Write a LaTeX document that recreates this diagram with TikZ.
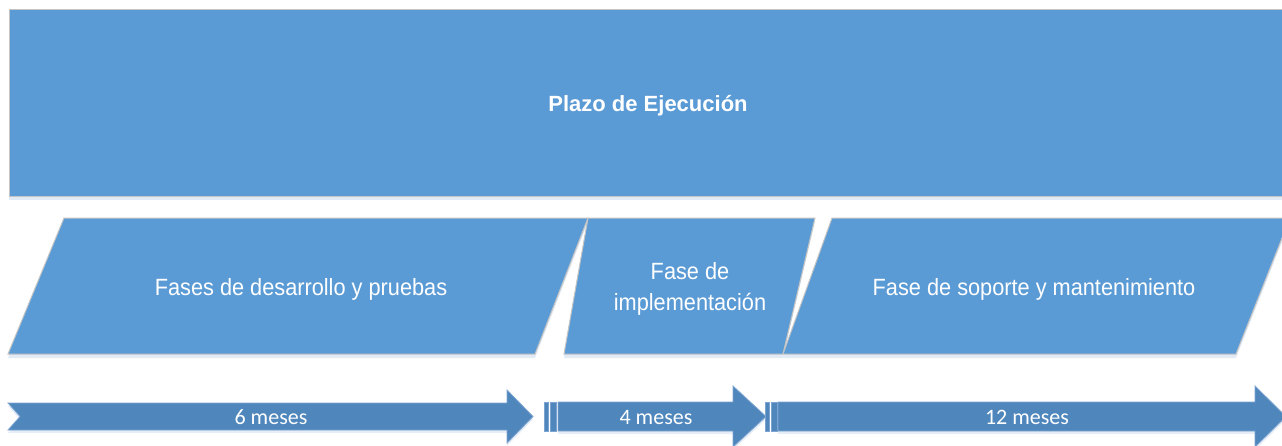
\documentclass[tikz,border=0pt]{standalone}
\usepackage{fontspec}
\setmainfont{Liberation Sans}
\newfontfamily\narrowfont[FakeStretch=0.925]{Liberation Sans}
\newfontfamily\calfont{Carlito}
\usetikzlibrary{shadows}
\definecolor{boxblue}{RGB}{91,155,213}
\definecolor{arrblue}{RGB}{79,135,189}
\definecolor{boxline}{RGB}{196,196,196}
\definecolor{arrline}{RGB}{125,163,208}
\definecolor{shadowblue}{RGB}{205,220,238}
\begin{document}
\begin{tikzpicture}[x=1pt,y=-1pt,
  box/.style={fill=boxblue, draw=boxline, line width=1pt,
    drop shadow={shadow xshift=0pt, shadow yshift=-4pt, fill=shadowblue, opacity=0.6}},
  arrowshape/.style={fill=arrblue, draw=arrline, line width=0.8pt,
    drop shadow={shadow xshift=0pt, shadow yshift=-3pt, fill=shadowblue, opacity=0.5}},
  stripe/.style={fill=arrblue, draw=arrline, line width=0.8pt},
  boxtext/.style={text=white, anchor=base, inner sep=0pt, font=\narrowfont\fontsize{23.5}{28}\selectfont},
  titletext/.style={text=white, anchor=base, inner sep=0pt, font=\fontsize{22}{26}\selectfont\bfseries},
  arrtext/.style={text=white, anchor=base, inner sep=0pt, font=\calfont\fontsize{22}{26}\selectfont}]
\useasboundingbox (0,0) rectangle (1282,445);
\clip (0,0) rectangle (1282,445);

% top banner
\path[box] (9,9) rectangle (1300,196);
\node[titletext] (plazo) at (648,111) {Plazo de Ejecución};

% phases
\path[box] (8,354) -- (64,218) -- (588,218) -- (535,354) -- cycle;
\path[box] (564,354) -- (588,218) -- (815,218) -- (783,354) -- cycle;
\path[box] (783,354) -- (832,218) -- (1290,218) -- (1236,354) -- cycle;
\node[boxtext] (f1) at (301,295) {Fases de desarrollo y pruebas};
\node[boxtext] (f2a) at (690,279) {Fase de};
\node[boxtext] (f2b) at (690,310) {implementación};
\node[boxtext] (f3) at (1034,295) {Fase de soporte y mantenimiento};

% arrows
\path[arrowshape] (8,403) -- (507,403) -- (507,390) -- (533,416.5) -- (507,443)
  -- (507,430) -- (8,430) -- (20,416.5) -- cycle;
\path[stripe] (544,402) rectangle (548,431);
\path[stripe] (550,402) rectangle (556,431);
\path[arrowshape] (558,402) -- (733,402) -- (733,386) -- (766,416.5) -- (733,447)
  -- (733,431) -- (558,431) -- cycle;
\path[stripe] (765,402) rectangle (769,431);
\path[stripe] (771,402) rectangle (777,431);
\path[arrowshape] (778,402) -- (1255,402) -- (1255,386) -- (1286,416.5) -- (1255,447)
  -- (1255,431) -- (778,431) -- cycle;
\node[arrtext] (m1) at (271,424) {6 meses};
\node[arrtext] (m2) at (656,424) {4 meses};
\node[arrtext] (m3) at (1027,424) {12 meses};
\end{tikzpicture}
\end{document}
